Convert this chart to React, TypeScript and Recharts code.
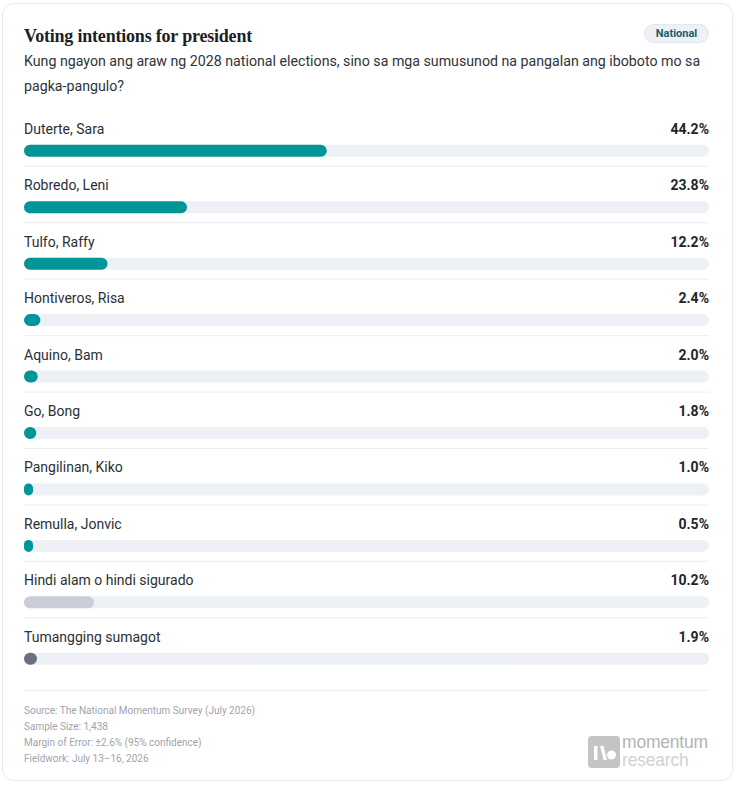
import React from "react";
import { BarChart, Bar, XAxis, YAxis, Cell, LabelList } from "recharts";

const names = [
  "Duterte, Sara",
  "Robredo, Leni",
  "Tulfo, Raffy",
  "Hontiveros, Risa",
  "Aquino, Bam",
  "Go, Bong",
  "Pangilinan, Kiko",
  "Remulla, Jonvic",
  "Hindi alam o hindi sigurado",
  "Tumangging sumagot",
];
const values = [44.2, 23.8, 12.2, 2.4, 2.0, 1.8, 1.0, 0.5, 10.2, 1.9];
const groups = [
  "candidate",
  "candidate",
  "candidate",
  "candidate",
  "candidate",
  "candidate",
  "candidate",
  "candidate",
  "unsure",
  "refused",
];
const footerLines = [
  "Source: The National Momentum Survey (July 2026)",
  "Sample Size: 1,438",
  "Margin of Error: ±2.6% (95% confidence)",
  "Fieldwork: July 13–16, 2026",
];

const groupColor: Record<string, string> = {
  candidate: "#009597",
  unsure: "#c9ced9",
  refused: "#6b7080",
};

const data = names.map((n, i) => ({ name: n, value: values[i], group: groups[i] }));

const SANS = "Roboto, 'Noto Sans', Arial, sans-serif";
const CHART_W = 731;
const LEFT = 22;
const RIGHT_EDGE = 707;

const NameLabel = (props: any) => {
  const { y, height, value } = props;
  const cy = y + height / 2;
  const isLast = value === names[names.length - 1];
  return (
    <g>
      <text x={LEFT} y={cy - 17} fontSize={14} fill="#2b2f36" fontFamily={SANS} textAnchor="start">
        {value}
      </text>
      {!isLast ? (
        <line x1={LEFT} x2={RIGHT_EDGE} y1={cy + 15.5} y2={cy + 15.5} stroke="#eceef2" strokeWidth={1} />
      ) : null}
    </g>
  );
};

const ValueLabel = (props: any) => {
  const { y, height, value } = props;
  const cy = y + height / 2;
  return (
    <text x={RIGHT_EDGE} y={cy - 17} fontSize={14} fontWeight={700} fill="#22262c" fontFamily={SANS} textAnchor="end">
      {`${Number(value).toFixed(1)}%`}
    </text>
  );
};

export default function App() {
  return (
    <div
      style={{
        position: "absolute",
        left: 2,
        top: 3,
        width: CHART_W,
        height: 778,
        boxSizing: "border-box",
        border: "1px solid #e9eaec",
        borderRadius: 12,
        background: "#fff",
        fontFamily: SANS,
      }}
    >
      <div style={{ position: "absolute", left: -1, top: 0 }}>
        <div
          style={{
            position: "absolute",
            left: 22,
            top: 22,
            fontFamily: "'Liberation Serif', 'DejaVu Serif', serif",
            fontWeight: 700,
            fontSize: 18,
            letterSpacing: -0.2,
            color: "#1c1f24",
            whiteSpace: "nowrap",
          }}
        >
          Voting intentions for president
        </div>
        <div
          style={{
            position: "absolute",
            left: 642,
            top: 20,
            width: 65,
            height: 19,
            boxSizing: "border-box",
            borderRadius: 10,
            background: "#eef2f6",
            border: "1px solid #e2e7ed",
            color: "#1e5d69",
            fontSize: 11,
            fontWeight: 700,
            display: "flex",
            alignItems: "center",
            justifyContent: "center",
          }}
        >
          National
        </div>
        <div
          style={{
            position: "absolute",
            left: 22,
            top: 45,
            width: 690,
            fontSize: 14.2,
            lineHeight: "25px",
            color: "#2f333a",
          }}
        >
          Kung ngayon ang araw ng 2028 national elections, sino sa mga sumusunod na pangalan ang iboboto mo sa
          pagka-pangulo?
        </div>
        <div style={{ position: "absolute", left: 0, top: 97 }}>
          <BarChart
            width={CHART_W}
            height={600}
            data={data}
            layout="vertical"
            margin={{ top: 21.8, right: CHART_W - RIGHT_EDGE, bottom: 13.8, left: LEFT }}
          >
            <XAxis type="number" domain={[0, 100]} hide />
            <YAxis type="category" dataKey="name" width={0} hide />
            <Bar
              dataKey="value"
              barSize={12}
              radius={6}
              minPointSize={9}
              isAnimationActive={false}
              background={{ fill: "#edf0f5", radius: 6 } as any}
            >
              {data.map((d, i) => (
                <Cell key={i} fill={groupColor[d.group]} />
              ))}
              <LabelList dataKey="name" content={<NameLabel />} />
              <LabelList dataKey="value" content={<ValueLabel />} />
            </Bar>
          </BarChart>
        </div>
        <div
          style={{
            position: "absolute",
            left: 22,
            top: 686,
            width: 685,
            borderTop: "1px solid #eceef2",
          }}
        />
        <div style={{ position: "absolute", left: 22, top: 699 }}>
          {footerLines.map((t, i) => (
            <div key={i} style={{ fontSize: 10, lineHeight: "16px", color: "#a0a4ab", whiteSpace: "nowrap" }}>
              {t}
            </div>
          ))}
        </div>
        <div style={{ position: "absolute", left: 586, top: 730, display: "flex", alignItems: "center" }}>
          <svg width={32} height={32} viewBox="0 0 32 32">
            <rect x={0} y={0} width={32} height={32} rx={4} fill="#c4c4c4" />
            <rect x={6} y={10} width={3.5} height={14} fill="#fff" />
            <path d="M12 10 L15.5 10 L19 24 L15.5 24 Z" fill="#fff" />
            <circle cx={23.5} cy={19} r={4.5} fill="#fff" />
          </svg>
          <div style={{ marginLeft: 2, fontFamily: "'Liberation Sans', Arial, sans-serif", letterSpacing: -0.2 }}>
            <div style={{ fontSize: 17.5, lineHeight: "17.5px", color: "#b3b3b3" }}>momentum</div>
            <div style={{ fontSize: 17.5, lineHeight: "17.5px", color: "#d2d2d2" }}>research</div>
          </div>
        </div>
      </div>
    </div>
  );
}
